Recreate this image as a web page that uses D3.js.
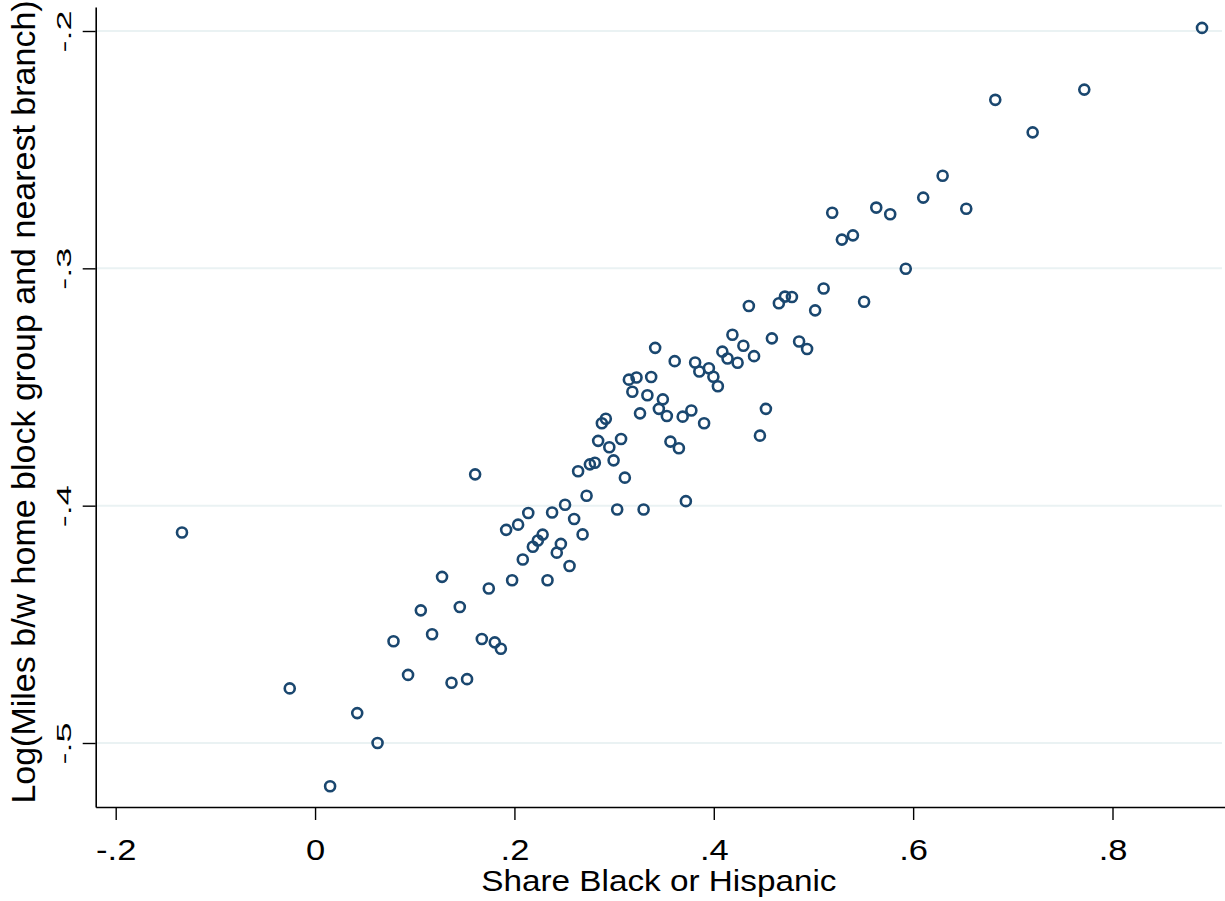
<!DOCTYPE html>
<html>
<head>
<meta charset="utf-8">
<script src="https://cdn.jsdelivr.net/npm/d3@7"></script>
<style>
  body { margin: 0; background: #fff; }
  svg text { font-family: "Liberation Sans", Arial, sans-serif; fill: #000; }
</style>
</head>
<body>
<script>
// data
const shareBH = [0.8898, 0.7717, 0.6824, 0.7199, 0.6296, 0.6101, 0.6533, 0.5188, 0.5630, 0.5770,
  0.5285, 0.5396, 0.5926, 0.5102, 0.4352, 0.4653, 0.4714, 0.4784, 0.5017, 0.5508,
  0.4187, 0.4583, 0.3412, 0.4086, 0.4138, 0.4297, 0.4404, 0.4239, 0.3608, 0.3813,
  0.3855, 0.3951, 0.3996, 0.4041, 0.4856, 0.4936, 0.3148, 0.3225, 0.3372, 0.3183,
  0.3334, 0.3489, 0.3449, 0.3260, 0.3529, 0.3688, 0.3775, 0.2877, 0.2917, 0.3903,
  0.4523, 0.4463, 0.2840, 0.3070, 0.3565, 0.3650, 0.2952, 0.2639, 0.2757, 0.2807,
  0.2995, 0.1606, 0.3108, 0.2724, 0.3720, 0.3031, 0.3296, 0.2508, 0.2139, 0.2378,
  0.1917, 0.2037, 0.2599, 0.2684, 0.2283, 0.2235, 0.2185, 0.2466, 0.2084, 0.2425,
  0.2553, -0.1335, 0.1274, 0.1977, 0.2332, 0.1743, 0.1061, 0.1452, 0.1174, 0.0787,
  0.1673, 0.1803, 0.1864, 0.0933, 0.1369, 0.1525, -0.0254, 0.0423, 0.0627, 0.0151];

const logMiles = [-0.1987, -0.2247, -0.2290, -0.2427, -0.2610, -0.2702, -0.2749, -0.2766, -0.2744, -0.2772,
  -0.2879, -0.2861, -0.3002, -0.3085, -0.3159, -0.3147, -0.3119, -0.3121, -0.3177, -0.3141,
  -0.3280, -0.3295, -0.3335, -0.3351, -0.3380, -0.3326, -0.3370, -0.3398, -0.3391, -0.3397,
  -0.3435, -0.3421, -0.3457, -0.3497, -0.3308, -0.3340, -0.3469, -0.3460, -0.3458, -0.3520,
  -0.3535, -0.3552, -0.3592, -0.3611, -0.3622, -0.3625, -0.3599, -0.3653, -0.3634, -0.3653,
  -0.3592, -0.3705, -0.3727, -0.3719, -0.3730, -0.3758, -0.3754, -0.3855, -0.3826, -0.3819,
  -0.3809, -0.3868, -0.3882, -0.3958, -0.3981, -0.4016, -0.4016, -0.3996, -0.4031, -0.4029,
  -0.4102, -0.4080, -0.4056, -0.4121, -0.4122, -0.4147, -0.4173, -0.4161, -0.4227, -0.4198,
  -0.4254, -0.4113, -0.4300, -0.4314, -0.4314, -0.4349, -0.4441, -0.4427, -0.4542, -0.4571,
  -0.4562, -0.4576, -0.4603, -0.4713, -0.4746, -0.4731, -0.4770, -0.4874, -0.5000, -0.5182];

const xTicks = [-0.2, 0, 0.2, 0.4, 0.6, 0.8];
const xTickLabels = ["-.2", "0", ".2", ".4", ".6", ".8"];
const yTicks = [-0.5, -0.4, -0.3, -0.2];
const yTickLabels = ["-.5", "-.4", "-.3", "-.2"];

const xTitle = "Share Black or Hispanic";
const yTitle = "Log(Miles b/w home block group and nearest branch)";

const w = 1225;
const h = 901;
const padLeft = 95.7, padRight = 1225, padTop = 7, padBottom = 807;
const navy = "#1a476f";

// scales fitted on the labelled ticks, then stretched to the plot edges
const xScale = d3.scaleLinear().domain([-0.2, 0.8]).range([115.7, 1112.5]);
xScale.domain([xScale.invert(padLeft), xScale.invert(padRight)]).range([padLeft, padRight]);
const yScale = d3.scaleLinear().domain([-0.5, -0.2]).range([743, 31]);
yScale.domain([yScale.invert(padBottom), yScale.invert(padTop)]).range([padBottom, padTop]);

const svg = d3.select("body")
  .append("svg")
  .attr("width", w)
  .attr("height", h);

// grid lines
svg.append("g")
  .selectAll("line")
  .data(yTicks)
  .enter()
  .append("line")
  .attr("x1", padLeft + 1)
  .attr("x2", 1222)
  .attr("y1", (d) => yScale(d))
  .attr("y2", (d) => yScale(d))
  .attr("stroke", "#eaf2f3")
  .attr("stroke-width", 2);

// axes
const xAxis = d3.axisBottom(xScale)
  .tickValues(xTicks)
  .tickFormat((d, i) => xTickLabels[i])
  .tickSizeInner(13)
  .tickSizeOuter(0);

const yAxis = d3.axisLeft(yScale)
  .tickValues(yTicks)
  .tickFormat((d, i) => yTickLabels[i])
  .tickSizeInner(13)
  .tickSizeOuter(0);

const gx = svg.append("g")
  .attr("transform", `translate(0, ${padBottom})`)
  .call(xAxis);

const gy = svg.append("g")
  .attr("transform", `translate(${padLeft}, 0)`)
  .call(yAxis);

[gx, gy].forEach((g) => {
  g.select(".domain").attr("stroke", "#000").attr("stroke-width", 1.6);
  g.selectAll(".tick line").attr("stroke", "#000").attr("stroke-width", 1.4);
});

gx.selectAll(".tick text")
  .attr("y", 53)
  .attr("dy", 0)
  .attr("font-size", 30)
  .attr("transform", "scale(1.15,1)");

gy.selectAll(".tick text")
  .attr("x", 0)
  .attr("dy", 0)
  .attr("text-anchor", "middle")
  .attr("font-size", 20)
  .attr("transform", "translate(-24.7,0) rotate(-90) scale(1.8,1)");

// titles
const xMid = (padLeft + 1222) / 2;
svg.append("text")
  .attr("x", 0)
  .attr("y", 891)
  .attr("text-anchor", "middle")
  .attr("font-size", 30)
  .attr("transform", `translate(${xMid},0) scale(1.11,1)`)
  .text(xTitle);

svg.append("text")
  .attr("transform", `translate(35, 402) rotate(-90)`)
  .attr("text-anchor", "middle")
  .attr("font-size", 34)
  .text(yTitle);

// points
svg.append("g")
  .selectAll("circle")
  .data(shareBH)
  .enter()
  .append("circle")
  .attr("cx", (d) => xScale(d))
  .attr("cy", (d, i) => yScale(logMiles[i]))
  .attr("r", 5)
  .attr("fill", "none")
  .attr("stroke", navy)
  .attr("stroke-width", 2.6);
</script>
</body>
</html>
